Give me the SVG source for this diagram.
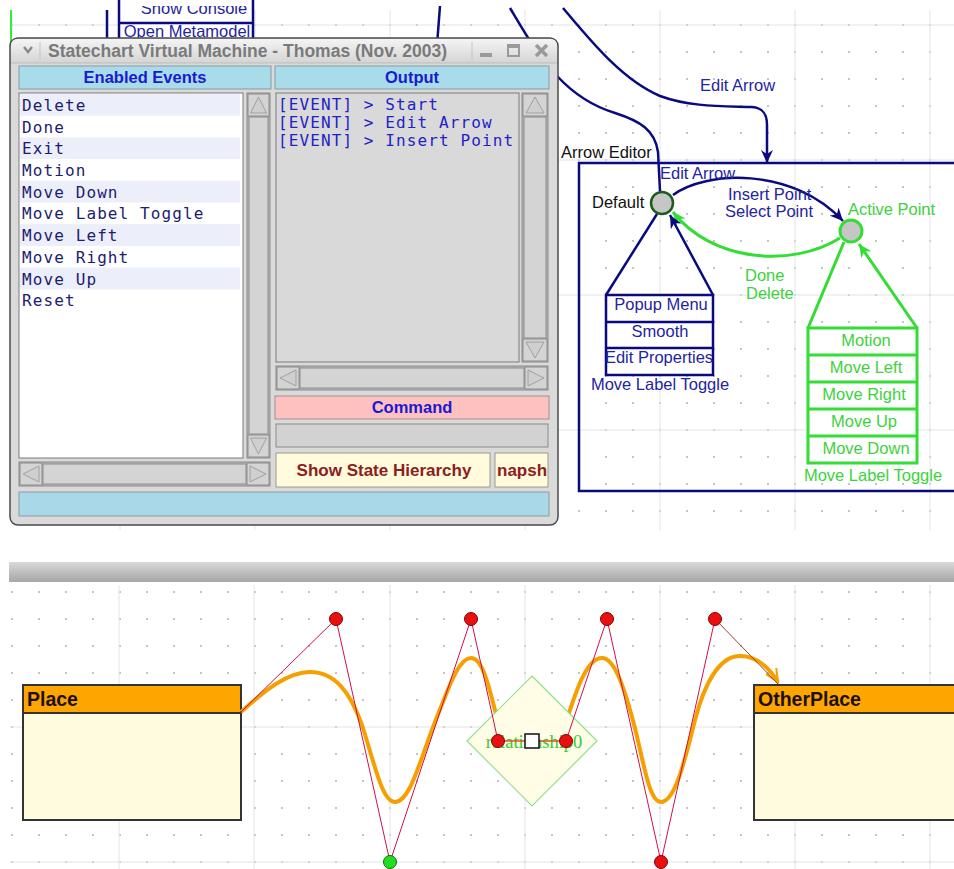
<svg xmlns="http://www.w3.org/2000/svg" width="954" height="869" viewBox="0 0 954 869">
<style>
.gl{stroke:#e4e4e4;stroke-width:1;fill:none}
.lbl{font-family:"Liberation Sans",Arial,sans-serif;font-size:16.5px}
.blue{fill:#2424a0}
.grn{fill:#3dd23d}
.nav{stroke:#0a0a80;fill:none;stroke-width:2.5}
.gre{stroke:#33dd33;fill:none;stroke-width:3}
.hdr{font-family:"Liberation Sans",Arial,sans-serif;font-size:16.5px;font-weight:bold;fill:#1a1ad0;text-anchor:middle}
.mono{font-family:"DejaVu Sans Mono","Liberation Mono",monospace;font-size:16px;letter-spacing:1.1px}
.bev{fill:#d4d4d4;stroke:#8c8c8c;stroke-width:1}
.arr{fill:#cfcfcf;stroke:#a0a0a0;stroke-width:1}
.poly{stroke:#d0104a;stroke-width:1;fill:none}
.cp{fill:#e81010;stroke:#8a0000;stroke-width:1}
.box{stroke:#333;stroke-width:2}
</style>
<defs>
<pattern id="dots" patternUnits="userSpaceOnUse" x="11" y="24" width="27" height="27">
<rect x="0" y="0" width="2" height="2" fill="#c4c4c4"/>
</pattern>
<marker id="ab" markerUnits="userSpaceOnUse" markerWidth="14" markerHeight="12" refX="13" refY="6" orient="auto">
<path d="M0,0 L13,6 L0,12 L4,6 z" fill="#0a0a80"/>
</marker>
<marker id="ag" markerUnits="userSpaceOnUse" markerWidth="14" markerHeight="12" refX="13" refY="6" orient="auto">
<path d="M0,0 L13,6 L0,12 L4,6 z" fill="#33dd33"/>
</marker>
<marker id="ao" markerUnits="userSpaceOnUse" markerWidth="16" markerHeight="14" refX="14" refY="7" orient="auto">
<path d="M1,1 L14,7 L1,13" fill="none" stroke="#f5a000" stroke-width="2"/>
</marker>
<linearGradient id="tb" x1="0" y1="0" x2="0" y2="1">
<stop offset="0" stop-color="#f4f4f4"/>
<stop offset="1" stop-color="#d4d4d4"/>
</linearGradient>
<linearGradient id="sep" x1="0" y1="0" x2="0" y2="1">
<stop offset="0" stop-color="#dadada"/>
<stop offset="0.7" stop-color="#b4b4b4"/>
<stop offset="1" stop-color="#a8a8a8"/>
</linearGradient>
<clipPath id="topclip"><rect x="0" y="6" width="954" height="17"/></clipPath>
<clipPath id="omclip"><rect x="110" y="24" width="150" height="14"/></clipPath>
<clipPath id="btnclip"><rect x="495" y="453" width="53" height="34"/></clipPath>
</defs>

<rect width="954" height="869" fill="#ffffff"/>

<!-- top grid -->
<g id="grid-top">
<rect x="10" y="10" width="944" height="520" fill="url(#dots)"/>
<path class="gl" d="M120,10V530M255,10V530M390,10V530M525,10V530M660,10V530M795,10V530M930,10V530M10,25H954M10,160H954M10,295H954M10,430H954"/>
</g>

<!-- bottom grid -->
<g id="grid-bottom">
<rect x="10" y="590" width="944" height="279" fill="url(#dots)"/>
<path class="gl" d="M119,585V869M254,585V869M390,585V869M525,585V869M660,585V869M795,585V869M930,585V869M10,727H954M10,862H954"/>
</g>

<!-- partially hidden upper elements -->
<g id="upper-left">
<line x1="11" y1="10" x2="11" y2="45" stroke="#33ee33" stroke-width="2"/>
<line x1="107" y1="10" x2="107" y2="45" stroke="#0a0a80" stroke-width="2.5"/>
<rect x="119" y="-10" width="134" height="60" fill="#ffffff" stroke="#0a0a80" stroke-width="2.5"/>
<line x1="119" y1="23" x2="253" y2="23" stroke="#0a0a80" stroke-width="2.5"/>
<text class="lbl blue" x="194" y="14" text-anchor="middle" clip-path="url(#topclip)">Show Console</text>
<text class="lbl blue" x="187" y="37" text-anchor="middle" font-size="15.5px" clip-path="url(#omclip)">Open Metamodel</text>
</g>

<!-- connectors -->
<g id="connectors">
<path class="nav" d="M440,6 L437,45"/>
<path class="nav" d="M510,8 C522,28 540,60 558,77 C575,95 592,106 615,113 C640,121 655,130 658,152 L660,191"/>
<path class="nav" d="M563,8 C590,40 622,80 660,96 C690,107 722,106 752,107 C764,108 767,115 767,125 L767,163" marker-end="url(#ab)"/>
<path class="nav" d="M673,195 C705,171 792,166 843,221" marker-end="url(#ab)"/>
<path class="gre" d="M840,238 C792,268 712,262 673,212" marker-end="url(#ag)"/>
<line class="nav" x1="657" y1="214" x2="606" y2="295"/>
<line class="nav" x1="713" y1="295" x2="670" y2="215" marker-end="url(#ab)"/>
<line class="gre" x1="844" y1="242" x2="808" y2="328"/>
<line class="gre" x1="917" y1="328" x2="859" y2="244" marker-end="url(#ag)"/>
</g>

<!-- Arrow Editor composite state -->
<g id="arrow-editor">
<rect x="579" y="163" width="390" height="328" fill="none" stroke="#0a0a80" stroke-width="2.5"/>
<text class="lbl" x="561" y="158" fill="#111">Arrow Editor</text>
<text class="lbl blue" x="700" y="91">Edit Arrow</text>
<text class="lbl blue" x="660" y="179">Edit Arrow</text>
<text class="lbl blue" x="728" y="200">Insert Point</text>
<text class="lbl blue" x="725" y="217">Select Point</text>
<text class="lbl grn" x="745" y="281">Done</text>
<text class="lbl grn" x="746" y="299">Delete</text>
</g>

<g id="state-default">
<circle cx="662" cy="203" r="11" fill="#c6c6c6" stroke="#1f5a1f" stroke-width="2.5"/>
<text class="lbl" x="592" y="208" fill="#111">Default</text>
</g>

<g id="state-active">
<circle cx="851" cy="231" r="11" fill="#c6c6c6" stroke="#33dd33" stroke-width="3"/>
<text class="lbl grn" x="848" y="215">Active Point</text>
</g>

<g id="default-actions">
<rect x="606" y="295" width="107" height="80" fill="#ffffff" stroke="#0a0a80" stroke-width="2.5"/>
<path d="M606,322H713M606,348H713" stroke="#0a0a80" stroke-width="2.5"/>
<text class="lbl blue" x="661" y="310" text-anchor="middle">Popup Menu</text>
<text class="lbl blue" x="660" y="337" text-anchor="middle">Smooth</text>
<text class="lbl blue" x="659" y="363" text-anchor="middle" font-size="16px">Edit Properties</text>
<text class="lbl blue" x="660" y="390" text-anchor="middle" font-size="17px">Move Label Toggle</text>
</g>

<g id="active-actions">
<rect x="808" y="328" width="109" height="135" fill="#ffffff" stroke="#33dd33" stroke-width="3"/>
<path d="M808,355H917M808,382H917M808,409H917M808,436H917" stroke="#33dd33" stroke-width="3"/>
<text class="lbl grn" x="866" y="346" text-anchor="middle">Motion</text>
<text class="lbl grn" x="866" y="373" text-anchor="middle">Move Left</text>
<text class="lbl grn" x="864" y="400" text-anchor="middle">Move Right</text>
<text class="lbl grn" x="864" y="427" text-anchor="middle">Move Up</text>
<text class="lbl grn" x="866" y="454" text-anchor="middle">Move Down</text>
<text class="lbl grn" x="873" y="481" text-anchor="middle" font-size="17px">Move Label Toggle</text>
</g>

<!-- Virtual machine window -->
<g id="vm-window">
<rect x="10" y="38" width="548" height="487" rx="8" fill="#dadada" stroke="#4a4a4a" stroke-width="1.5"/>
<path d="M11,63 V46 Q11,39 18,39 H550 Q557,39 557,46 V63 Z" fill="url(#tb)"/>
<line x1="11" y1="63" x2="557" y2="63" stroke="#bdbdbd"/>
<path d="M24,47 L28,52 L32,47" fill="none" stroke="#8a8a8a" stroke-width="2.5"/>
<line x1="40" y1="42" x2="40" y2="60" stroke="#c4c4c4"/>
<text x="48" y="57" font-family="Liberation Sans,Arial,sans-serif" font-size="17.5" font-weight="bold" fill="#7a7a7a">Statechart Virtual Machine - Thomas (Nov. 2003)</text>
<line x1="472" y1="42" x2="472" y2="60" stroke="#c4c4c4"/>
<rect x="480" y="53" width="12" height="4" fill="#9a9a9a"/>
<rect x="508" y="45" width="11" height="11" fill="none" stroke="#9a9a9a" stroke-width="2"/>
<rect x="508" y="45" width="11" height="3" fill="#9a9a9a"/>
<path d="M536,45 L547,56 M547,45 L536,56" stroke="#9a9a9a" stroke-width="3.5"/>

<!-- headers -->
<rect x="19" y="66" width="252" height="23" fill="#a9dcea" stroke="#8a9aa0"/>
<text class="hdr" x="145" y="83">Enabled Events</text>
<rect x="275" y="66" width="274" height="23" fill="#a9dcea" stroke="#8a9aa0"/>
<text class="hdr" x="412" y="83">Output</text>

<!-- event list -->
<rect x="19" y="93" width="224" height="365" fill="#ffffff" stroke="#7a7a7a"/>
<rect x="20" y="94" width="220" height="21.7" fill="#eceef9"/>
<rect x="20" y="137.4" width="220" height="21.7" fill="#eceef9"/>
<rect x="20" y="180.8" width="220" height="21.7" fill="#eceef9"/>
<rect x="20" y="224.2" width="220" height="21.7" fill="#eceef9"/>
<rect x="20" y="267.6" width="220" height="21.7" fill="#eceef9"/>
<g class="mono" fill="#1c1c70">
<text x="22" y="111">Delete</text>
<text x="22" y="133">Done</text>
<text x="22" y="154">Exit</text>
<text x="22" y="176">Motion</text>
<text x="22" y="198">Move Down</text>
<text x="22" y="219">Move Label Toggle</text>
<text x="22" y="241">Move Left</text>
<text x="22" y="263">Move Right</text>
<text x="22" y="285">Move Up</text>
<text x="22" y="306">Reset</text>
</g>
<rect x="247" y="93" width="23" height="365" fill="#b9b9b9" stroke="#8a8a8a"/>
<rect class="bev" x="249" y="117" width="19" height="317"/>
<rect class="bev" x="248" y="94" width="21" height="22"/>
<polygon class="arr" points="258.5,97 250.5,113 266.5,113"/>
<rect class="bev" x="248" y="435" width="21" height="22"/>
<polygon class="arr" points="250.5,438 266.5,438 258.5,454"/>
<rect x="19" y="462" width="251" height="24" fill="#b9b9b9" stroke="#8a8a8a"/>
<rect class="bev" x="43" y="464" width="203" height="20"/>
<rect class="bev" x="20" y="463" width="22" height="22"/>
<polygon class="arr" points="23,474 39,466 39,482"/>
<rect class="bev" x="247" y="463" width="22" height="22"/>
<polygon class="arr" points="250,466 250,482 266,474"/>

<!-- output -->
<rect x="276" y="93" width="243" height="269" fill="#d9d9d9" stroke="#7a7a7a"/>
<g class="mono" fill="#2222c8">
<text x="278" y="110">[EVENT] &gt; Start</text>
<text x="278" y="128">[EVENT] &gt; Edit Arrow</text>
<text x="278" y="146">[EVENT] &gt; Insert Point</text>
</g>
<rect x="522" y="93" width="26" height="269" fill="#b9b9b9" stroke="#8a8a8a"/>
<rect class="bev" x="524" y="117" width="22" height="221"/>
<rect class="bev" x="523" y="94" width="24" height="22"/>
<polygon class="arr" points="535,97 526,113 544,113"/>
<rect class="bev" x="523" y="339" width="24" height="22"/>
<polygon class="arr" points="526,342 544,342 535,358"/>
<rect x="276" y="366" width="272" height="24" fill="#b9b9b9" stroke="#8a8a8a"/>
<rect class="bev" x="300" y="368" width="224" height="20"/>
<rect class="bev" x="277" y="367" width="22" height="22"/>
<polygon class="arr" points="280,378 296,370 296,386"/>
<rect class="bev" x="525" y="367" width="22" height="22"/>
<polygon class="arr" points="528,370 528,386 544,378"/>

<!-- command -->
<rect x="275" y="396" width="274" height="23" fill="#ffc0c0" stroke="#a09090"/>
<text class="hdr" x="412" y="413">Command</text>
<rect x="276" y="424" width="272" height="23" fill="#d2d2d2" stroke="#8a8a8a"/>

<!-- buttons -->
<rect x="276" y="453" width="214" height="34" fill="#fffbdc" stroke="#9a9a8a"/>
<text x="384" y="476" text-anchor="middle" font-family="Liberation Sans,Arial,sans-serif" font-size="17" font-weight="bold" fill="#8a2020">Show State Hierarchy</text>
<rect x="495" y="453" width="53" height="34" fill="#fffbdc" stroke="#9a9a8a"/>
<text x="497" y="476" font-family="Liberation Sans,Arial,sans-serif" font-size="17" font-weight="bold" fill="#8a2020" clip-path="url(#btnclip)">napsh</text>

<!-- status -->
<rect x="19" y="492" width="530" height="24" fill="#a9d8e8" stroke="#8a9aa0"/>
</g>

<!-- separator -->
<rect x="9" y="562" width="945" height="20" fill="url(#sep)"/>

<!-- Place nodes -->
<g id="place">
<rect class="box" x="23" y="685" width="218" height="135" fill="#fffbdf"/>
<rect class="box" x="23" y="685" width="218" height="28" fill="#ffa500"/>
<text x="27" y="706" font-family="Liberation Sans,Arial,sans-serif" font-size="19.5" font-weight="bold" fill="#1a1000">Place</text>
</g>
<g id="otherplace">
<rect class="box" x="754" y="685" width="220" height="135" fill="#fffbdf"/>
<rect class="box" x="754" y="685" width="220" height="28" fill="#ffa500"/>
<text x="758" y="706" font-family="Liberation Sans,Arial,sans-serif" font-size="19.5" font-weight="bold" fill="#1a1000">OtherPlace</text>
</g>

<!-- spline connector -->
<g id="spline">
<path d="M241,712 C265,690 288,672 310,672 C335,672 350,692 362,725 C375,765 382,802 395,802 C410,802 420,760 435,722 C448,690 458,658 471,658 C482,658 488,682 497,718 C505,745 560,745 568,716" fill="none" stroke="#f5a000" stroke-width="4"/>
<path d="M568,716 C578,685 588,658 602,658 C615,658 625,690 635,728 C645,770 650,802 661,802 C675,802 685,760 695,720 C705,682 720,656 740,656 C755,656 768,666 778,682" fill="none" stroke="#f5a000" stroke-width="4" marker-end="url(#ao)"/>
</g>

<g id="relationship0">
<polygon points="532,676 597,741 532,806 467,741" fill="#fffde6" stroke="#90e090" stroke-width="1.2"/>
<text x="534" y="748" text-anchor="middle" font-family="Liberation Serif,Times New Roman,serif" font-size="18.5" fill="#33cc33">relationship0</text>
</g>

<g id="control-polygon">
<polyline class="poly" points="241,712 336,619 390,862 471,619 498,741"/>
<line x1="498" y1="741" x2="566" y2="741" stroke="#e05020" stroke-width="1.5"/>
<polyline class="poly" points="566,741 607,619 661,862 715,619"/>
<line x1="715" y1="619" x2="778" y2="684" stroke="#8a4a2a" stroke-width="1"/>
<rect x="525" y="734" width="14" height="14" fill="#ffffff" stroke="#111" stroke-width="1.5"/>
<circle class="cp" cx="336" cy="619" r="6.5"/>
<circle class="cp" cx="471" cy="619" r="6.5"/>
<circle class="cp" cx="607" cy="619" r="6.5"/>
<circle class="cp" cx="715" cy="619" r="6.5"/>
<circle class="cp" cx="498" cy="741" r="6.5"/>
<circle class="cp" cx="566" cy="741" r="6.5"/>
<circle cx="390" cy="862" r="6.5" fill="#22dd22" stroke="#0a700a" stroke-width="1"/>
<circle class="cp" cx="661" cy="862" r="6.5"/>
</g>
</svg>
